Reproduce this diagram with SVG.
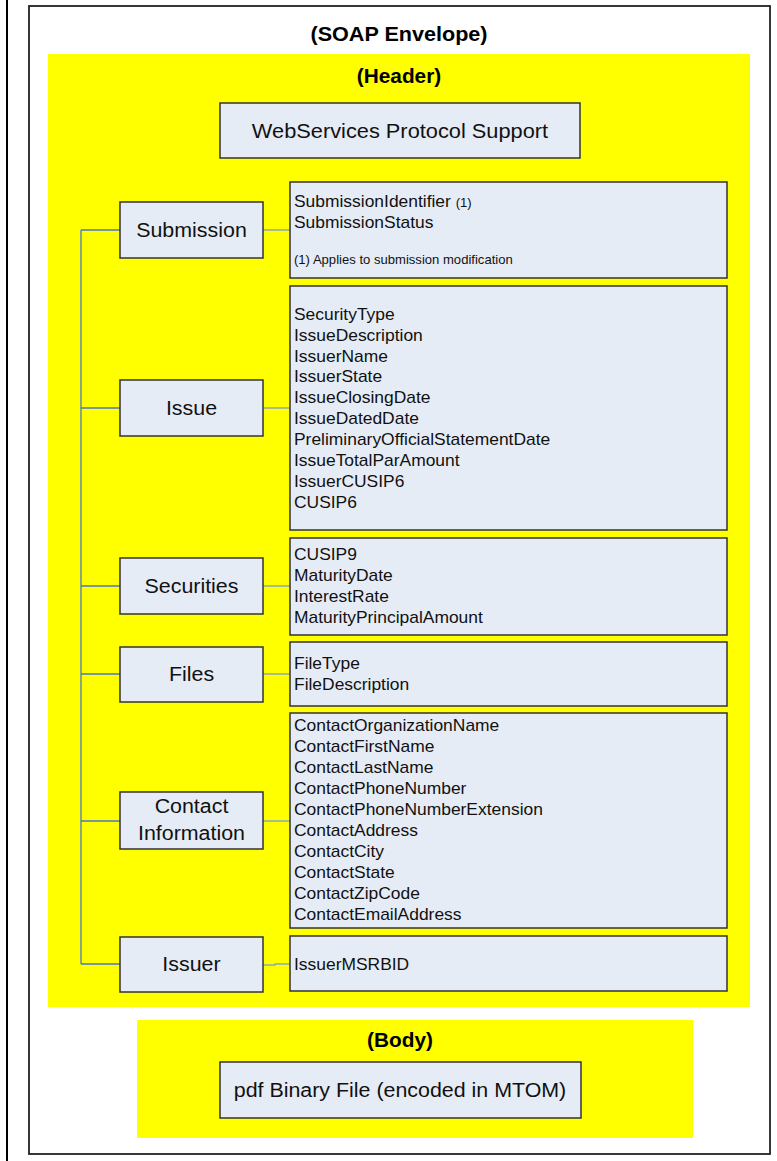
<svg xmlns="http://www.w3.org/2000/svg" width="777" height="1161" viewBox="0 0 777 1161">
<style>
.box{fill:#E6ECF6;stroke:#333;stroke-width:1.5}
.yel{fill:#FFFF00}
.title{font-family:"Liberation Sans",Arial,sans-serif;font-weight:bold;font-size:20px;text-anchor:middle;fill:#000}
.lbl{font-family:"Liberation Sans",Arial,sans-serif;font-size:20px;text-anchor:middle;fill:#111}
.txt{font-family:"Liberation Sans",Arial,sans-serif;font-size:16px;fill:#111}
.sm{font-family:"Liberation Sans",Arial,sans-serif;font-size:12px;fill:#111}
.conn{stroke:#4A78C8;stroke-width:1.3;fill:none}
.conn2{stroke:#8FA6BF;stroke-width:1.3;fill:none}
</style>
<rect width="777" height="1161" fill="#fff"/>
<line x1="7" y1="0" x2="7" y2="1161" stroke="#000" stroke-width="2"/>
<g id="envelope">
<rect x="29" y="6" width="741" height="1148" fill="#fff" stroke="#222" stroke-width="1.8"/>
<text class="title" x="399" y="41" transform="matrix(1.08,0,0,1,-31.92,0)">(SOAP Envelope)</text>
</g>
<g id="header">
<rect class="yel" x="48" y="54" width="702" height="953"/>
<text class="title" x="399" y="83" transform="matrix(1.04,0,0,1,-15.96,0)">(Header)</text>
</g>
<g id="connectors">
<path class="conn" d="M81 230V964M81 230H120M81 408H120M81 586H120M81 674H120M81 821H120M81 964H120"/>
<path class="conn2" d="M263 230H290M263 408H290M263 586H290M263 674H290M263 821H290M263 965H275V964H290"/>
</g>
<g id="webservices">
<rect class="box" x="220" y="103" width="360" height="55"/>
<text class="lbl" x="400" y="138" transform="matrix(1.09,0,0,1,-36,0)">WebServices Protocol Support</text>
</g>
<g id="submission">
<rect class="box" x="120" y="202" width="143" height="56"/>
<text class="lbl" x="191.5" y="237" transform="matrix(1.07,0,0,1,-13.4,0)">Submission</text>
</g>
<g id="submission-fields">
<rect class="box" x="290" y="182" width="437" height="96"/>
<g transform="matrix(1.09,0,0,1,-26.46,0)">
<text class="txt" x="294" y="207">SubmissionIdentifier <tspan font-size="12px">(1)</tspan></text>
<text class="txt" x="294" y="228">SubmissionStatus</text>
<text class="sm" x="294" y="264">(1) Applies to submission modification</text>
</g>
</g>
<g id="issue">
<rect class="box" x="120" y="380" width="143" height="56"/>
<text class="lbl" x="191.5" y="415" transform="matrix(1.07,0,0,1,-13.4,0)">Issue</text>
</g>
<g id="issue-fields">
<rect class="box" x="290" y="286" width="437" height="244"/>
<g transform="matrix(1.09,0,0,1,-26.46,0)">
<text class="txt" x="294" y="320">SecurityType</text>
<text class="txt" x="294" y="341">IssueDescription</text>
<text class="txt" x="294" y="362">IssuerName</text>
<text class="txt" x="294" y="382">IssuerState</text>
<text class="txt" x="294" y="403">IssueClosingDate</text>
<text class="txt" x="294" y="424">IssueDatedDate</text>
<text class="txt" x="294" y="445">PreliminaryOfficialStatementDate</text>
<text class="txt" x="294" y="466">IssueTotalParAmount</text>
<text class="txt" x="294" y="487">IssuerCUSIP6</text>
<text class="txt" x="294" y="508">CUSIP6</text>
</g>
</g>
<g id="securities">
<rect class="box" x="120" y="558" width="143" height="56"/>
<text class="lbl" x="191.5" y="593" transform="matrix(1.07,0,0,1,-13.4,0)">Securities</text>
</g>
<g id="securities-fields">
<rect class="box" x="290" y="538" width="437" height="97"/>
<g transform="matrix(1.09,0,0,1,-26.46,0)">
<text class="txt" x="294" y="560">CUSIP9</text>
<text class="txt" x="294" y="581">MaturityDate</text>
<text class="txt" x="294" y="602">InterestRate</text>
<text class="txt" x="294" y="623">MaturityPrincipalAmount</text>
</g>
</g>
<g id="files">
<rect class="box" x="120" y="647" width="143" height="55"/>
<text class="lbl" x="191.5" y="681" transform="matrix(1.07,0,0,1,-13.4,0)">Files</text>
</g>
<g id="files-fields">
<rect class="box" x="290" y="642" width="437" height="64"/>
<g transform="matrix(1.09,0,0,1,-26.46,0)">
<text class="txt" x="294" y="669">FileType</text>
<text class="txt" x="294" y="690">FileDescription</text>
</g>
</g>
<g id="contact">
<rect class="box" x="120" y="792" width="143" height="57"/>
<g transform="matrix(1.07,0,0,1,-13.4,0)">
<text class="lbl" x="191.5" y="813">Contact</text>
<text class="lbl" x="191.5" y="840">Information</text>
</g>
</g>
<g id="contact-fields">
<rect class="box" x="290" y="713" width="437" height="215"/>
<g transform="matrix(1.09,0,0,1,-26.46,0)">
<text class="txt" x="294" y="731">ContactOrganizationName</text>
<text class="txt" x="294" y="752">ContactFirstName</text>
<text class="txt" x="294" y="773">ContactLastName</text>
<text class="txt" x="294" y="794">ContactPhoneNumber</text>
<text class="txt" x="294" y="815">ContactPhoneNumberExtension</text>
<text class="txt" x="294" y="836">ContactAddress</text>
<text class="txt" x="294" y="857">ContactCity</text>
<text class="txt" x="294" y="878">ContactState</text>
<text class="txt" x="294" y="899">ContactZipCode</text>
<text class="txt" x="294" y="920">ContactEmailAddress</text>
</g>
</g>
<g id="issuer">
<rect class="box" x="120" y="937" width="143" height="55"/>
<text class="lbl" x="191.5" y="971" transform="matrix(1.07,0,0,1,-13.4,0)">Issuer</text>
</g>
<g id="issuer-fields">
<rect class="box" x="290" y="936" width="437" height="55"/>
<text class="txt" x="294" y="970" transform="matrix(1.09,0,0,1,-26.46,0)">IssuerMSRBID</text>
</g>
<g id="body">
<rect class="yel" x="137" y="1020" width="556" height="118"/>
<text class="title" x="400" y="1047" transform="matrix(1.04,0,0,1,-16,0)">(Body)</text>
</g>
<g id="pdf">
<rect class="box" x="220" y="1062" width="361" height="56"/>
<text class="lbl" x="400" y="1097" transform="matrix(1.07,0,0,1,-28,0)">pdf Binary File (encoded in MTOM)</text>
</g>
</svg>
